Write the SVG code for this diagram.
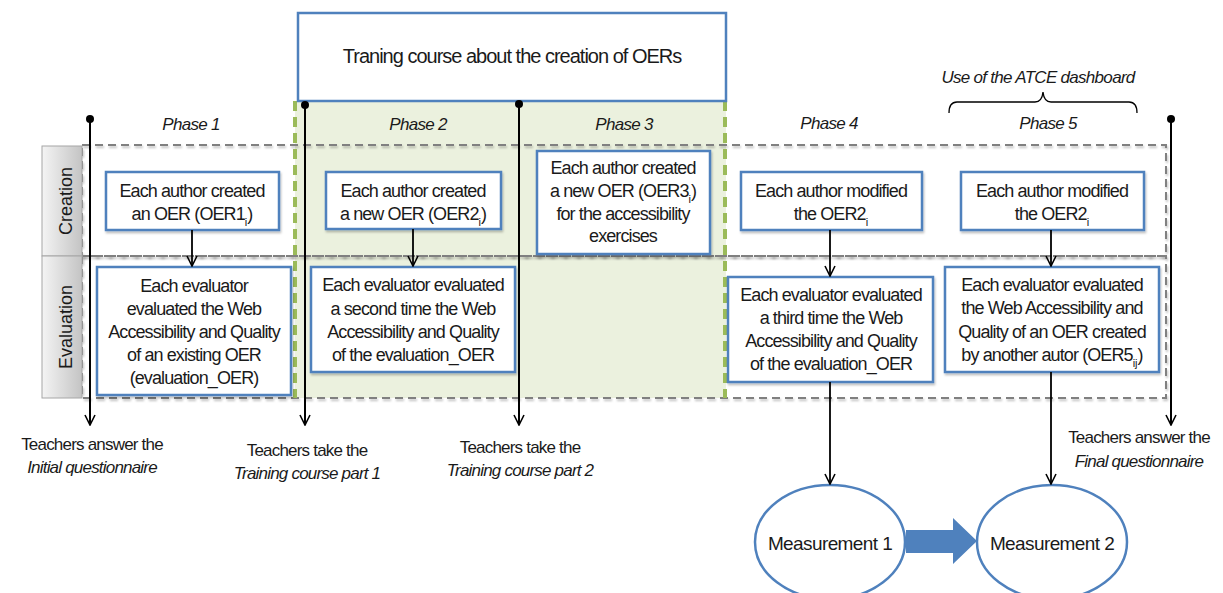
<svg xmlns="http://www.w3.org/2000/svg" width="1223" height="593" viewBox="0 0 1223 593">
<style>
  text { font-family: "Liberation Sans", Arial, sans-serif; fill: #1a1a1a; }
  .bt { font-size: 18px; letter-spacing: -0.9px; text-anchor: middle; }
  .ph { font-size: 17px; letter-spacing: -0.7px; font-style: italic; text-anchor: middle; }
  .lb { font-size: 17px; letter-spacing: -0.8px; text-anchor: middle; }
  .it { font-style: italic; }
  .sub { font-size: 11px; baseline-shift: sub; letter-spacing: 0; }
  .box { fill: #ffffff; stroke: #4f81bd; stroke-width: 2.5; filter: url(#sh); }
  .lane { fill: none; stroke: #808080; stroke-width: 2; stroke-dasharray: 8 5; filter: url(#sh); }
  .lanelab { fill: url(#gg); stroke: #a6a6a6; stroke-width: 1; }
  .gdash { stroke: #9bbb59; stroke-width: 4; stroke-dasharray: 10 6; fill: none; }
  .tl { stroke: #000; stroke-width: 2; fill: none; marker-end: url(#ah); }
  .ar { stroke: #000; stroke-width: 1.8; fill: none; marker-end: url(#ah); }
  .ell { fill: #ffffff; stroke: #4f81bd; stroke-width: 2.5; }
</style>
<defs>
  <linearGradient id="gg" x1="0" y1="0" x2="1" y2="0">
    <stop offset="0" stop-color="#f4f4f4"/>
    <stop offset="1" stop-color="#c4c4c4"/>
  </linearGradient>
  <filter id="sh" x="-5%" y="-5%" width="110%" height="115%">
    <feDropShadow dx="1" dy="2" stdDeviation="1.2" flood-color="#000" flood-opacity="0.25"/>
  </filter>
  <marker id="ah" viewBox="0 0 12 12" refX="11" refY="6" markerWidth="12" markerHeight="12" markerUnits="userSpaceOnUse" orient="auto">
    <path d="M1,1 L11,6 L1,11" fill="none" stroke="#000" stroke-width="1.6"/>
  </marker>
</defs>
<rect width="1223" height="593" fill="#ffffff"/>

<g id="training-area">
  <rect x="295" y="101" width="431" height="297" fill="#ebf1de"/>
</g>

<g id="lanes">
  <rect class="lane" x="82" y="145" width="1084" height="111"/>
  <rect class="lane" x="82" y="256" width="1084" height="142"/>
  <g id="lane-creation">
    <rect class="lanelab" x="42" y="146" width="40" height="110"/>
    <text transform="translate(72,201) rotate(-90)" style="font-size:18px;text-anchor:middle">Creation</text>
  </g>
  <g id="lane-evaluation">
    <rect class="lanelab" x="42" y="256" width="40" height="142"/>
    <text transform="translate(72,327) rotate(-90)" style="font-size:18px;text-anchor:middle">Evaluation</text>
  </g>
  <line class="gdash" x1="295" y1="101" x2="295" y2="398"/>
  <line class="gdash" x1="725" y1="101" x2="725" y2="398"/>
</g>

<g id="training-course">
  <rect x="298" y="13" width="428" height="88" fill="#ffffff" stroke="#4f81bd" stroke-width="2.5"/>
  <text x="512" y="63" style="font-size:20px;letter-spacing:-1px;text-anchor:middle">Traning course about the creation of OERs</text>
</g>

<g id="phases">
  <text class="ph" x="191" y="130">Phase 1</text>
  <text class="ph" x="418" y="130">Phase 2</text>
  <text class="ph" x="624" y="130">Phase 3</text>
  <text class="ph" x="829" y="129">Phase 4</text>
  <text class="ph" x="1048" y="129">Phase 5</text>
</g>

<g id="dashboard">
  <text class="ph" x="1038" y="83">Use of the ATCE dashboard</text>
  <path d="M949,113 Q949,102 957,102 L1035,102 Q1042,102 1043,92 Q1044,102 1051,102 L1129,102 Q1137,102 1137,113" fill="none" stroke="#000" stroke-width="1.3"/>
</g>

<g id="b1">
  <rect class="box" x="106" y="172" width="173" height="58"/>
  <text class="bt" x="192" y="197">Each author created</text>
  <text class="bt" x="192" y="220">an OER (OER1<tspan class="sub">i</tspan>)</text>
</g>
<g id="b2">
  <rect class="box" x="326" y="172" width="175" height="57"/>
  <text class="bt" x="413" y="197">Each author created</text>
  <text class="bt" x="413" y="220">a new OER (OER2<tspan class="sub">i</tspan>)</text>
</g>
<g id="b3">
  <rect class="box" x="537" y="151" width="173" height="103"/>
  <text class="bt" x="623" y="174">Each author created</text>
  <text class="bt" x="623" y="197">a new OER (OER3<tspan class="sub">i</tspan>)</text>
  <text class="bt" x="623" y="220">for the accessibility</text>
  <text class="bt" x="623" y="242">exercises</text>
</g>
<g id="b4">
  <rect class="box" x="741" y="172" width="181" height="58"/>
  <text class="bt" x="831" y="197">Each author modified</text>
  <text class="bt" x="831" y="220">the OER2<tspan class="sub">i</tspan></text>
</g>
<g id="b5">
  <rect class="box" x="961" y="172" width="183" height="58"/>
  <text class="bt" x="1052" y="197">Each author modified</text>
  <text class="bt" x="1052" y="220">the OER2<tspan class="sub">i</tspan></text>
</g>

<g id="e1">
  <rect class="box" x="97" y="267" width="194" height="128"/>
  <text class="bt" x="194" y="292">Each evaluator</text>
  <text class="bt" x="194" y="315">evaluated the Web</text>
  <text class="bt" x="194" y="338">Accessibility and Quality</text>
  <text class="bt" x="194" y="361">of an existing OER</text>
  <text class="bt" x="194" y="384">(evaluation_OER)</text>
</g>
<g id="e2">
  <rect class="box" x="311" y="267" width="204" height="105"/>
  <text class="bt" x="413" y="291">Each evaluator evaluated</text>
  <text class="bt" x="413" y="315">a second time the Web</text>
  <text class="bt" x="413" y="338">Accessibility and Quality</text>
  <text class="bt" x="413" y="361">of the evaluation_OER</text>
</g>
<g id="e3">
  <rect class="box" x="728" y="277" width="205" height="105"/>
  <text class="bt" x="831" y="301">Each evaluator evaluated</text>
  <text class="bt" x="831" y="324">a third time the Web</text>
  <text class="bt" x="831" y="347">Accessibility and Quality</text>
  <text class="bt" x="831" y="370">of the evaluation_OER</text>
</g>
<g id="e4">
  <rect class="box" x="945" y="267" width="214" height="105"/>
  <text class="bt" x="1052" y="291">Each evaluator evaluated</text>
  <text class="bt" x="1052" y="314">the Web Accessibility and</text>
  <text class="bt" x="1052" y="338">Quality of an OER created</text>
  <text class="bt" x="1052" y="361">by another autor (OER5<tspan class="sub">ij</tspan>)</text>
</g>

<g id="m1">
  <ellipse class="ell" cx="830" cy="542" rx="75" ry="57"/>
  <text x="830" y="550" style="font-size:19px;letter-spacing:-0.6px;text-anchor:middle">Measurement 1</text>
</g>
<g id="m2">
  <ellipse class="ell" cx="1052" cy="542" rx="75" ry="57"/>
  <text x="1052" y="550" style="font-size:19px;letter-spacing:-0.6px;text-anchor:middle">Measurement 2</text>
</g>

<g id="connectors">
  <line class="ar" x1="192" y1="230" x2="192" y2="266"/>
  <line class="ar" x1="413" y1="229" x2="413" y2="266"/>
  <line class="ar" x1="830" y1="230" x2="830" y2="276"/>
  <line class="ar" x1="1051" y1="230" x2="1051" y2="266"/>
  <line class="ar" x1="830" y1="382" x2="830" y2="484"/>
  <line class="ar" x1="1051" y1="372" x2="1051" y2="484"/>
  <polygon points="906,530 953,530 953,518 977,541 953,564 953,553 906,553" fill="#4f81bd"/>
</g>

<g id="timeline-1">
  <circle cx="90" cy="119" r="4" fill="#000"/>
  <line class="tl" x1="90" y1="119" x2="90" y2="425"/>
  <text class="lb" x="92" y="450">Teachers answer the</text>
  <text class="lb it" x="92" y="473">Initial questionnaire</text>
</g>
<g id="timeline-2">
  <circle cx="305" cy="105" r="4" fill="#000"/>
  <line class="tl" x1="305" y1="105" x2="305" y2="425"/>
  <text class="lb" x="307" y="456">Teachers take the</text>
  <text class="lb it" x="307" y="479">Training course part 1</text>
</g>
<g id="timeline-3">
  <circle cx="519" cy="104" r="4" fill="#000"/>
  <line class="tl" x1="519" y1="104" x2="519" y2="425"/>
  <text class="lb" x="520" y="453">Teachers take the</text>
  <text class="lb it" x="520" y="476">Training course part 2</text>
</g>
<g id="timeline-4">
  <circle cx="1171" cy="119" r="4" fill="#000"/>
  <line class="tl" x1="1171" y1="119" x2="1171" y2="425"/>
  <text class="lb" x="1139" y="443">Teachers answer the</text>
  <text class="lb it" x="1139" y="467">Final questionnaire</text>
</g>
</svg>
